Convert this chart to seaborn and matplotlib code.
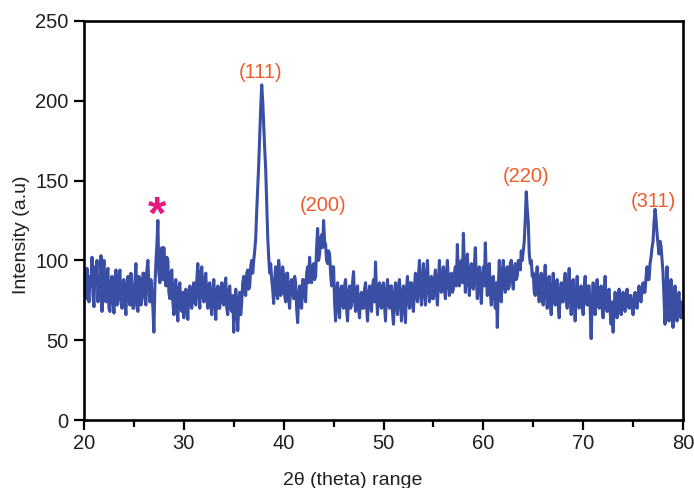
import numpy as np
import pandas as pd
import matplotlib
matplotlib.use("Agg")
import matplotlib.pyplot as plt
import seaborn as sns
from matplotlib.ticker import MultipleLocator

# 2-theta grid start/stop/step (degrees)
theta_start, theta_stop, theta_step = 20.0, 80.0, 0.1

# Intensity, one row per degree (10 samples / degree)
intensity = [
    80, 92, 76, 95, 82, 74, 90, 84, 102, 78,        # 20
    71, 96, 85, 100, 74, 90, 78, 103, 68, 88,       # 21
    100, 80, 74, 92, 95, 70, 68, 86, 90, 76,        # 22
    67, 88, 94, 72, 76, 90, 94, 74, 70, 86,         # 23
    88, 72, 66, 84, 90, 76, 72, 92, 84, 70,         # 24
    70, 86, 98, 74, 68, 90, 88, 72, 78, 92,         # 25
    92, 76, 72, 94, 100, 84, 74, 88, 80, 70,        # 26
    55, 84, 98, 110, 125, 92, 86, 104, 108, 88,     # 27
    108, 90, 84, 102, 100, 80, 76, 92, 94, 74,      # 28
    66, 84, 88, 70, 62, 82, 86, 70, 68, 80,         # 29
    64, 78, 82, 70, 63, 80, 84, 72, 70, 82,         # 30
    86, 74, 72, 88, 98, 80, 70, 92, 96, 78,         # 31
    74, 88, 92, 76, 70, 84, 86, 72, 66, 80,         # 32
    88, 76, 63, 80, 84, 70, 70, 82, 86, 74,         # 33
    72, 84, 89, 70, 66, 80, 84, 70, 68, 78,         # 34
    55, 70, 82, 74, 56, 72, 80, 66, 74, 86,         # 35
    90, 80, 78, 92, 94, 82, 84, 96, 100, 92,        # 36
    100, 106, 114, 131, 146, 160, 178, 196, 210, 200,  # 37
    185, 170, 157, 135, 115, 102, 92, 98, 88, 82,   # 38
    73, 88, 96, 80, 76, 100, 92, 78, 80, 96,        # 39
    90, 78, 74, 92, 92, 76, 70, 86, 88, 80,         # 40
    76, 90, 86, 70, 61, 78, 84, 72, 70, 88,         # 41
    88, 78, 74, 92, 96, 86, 102, 90, 86, 96,        # 42
    98, 88, 90, 108, 120, 100, 104, 114, 116, 108,  # 43
    125, 112, 110, 100, 98, 106, 104, 92, 84, 96,   # 44
    96, 74, 62, 80, 86, 70, 64, 82, 84, 72,         # 45
    70, 84, 88, 70, 62, 80, 84, 70, 72, 86,         # 46
    93, 76, 68, 82, 84, 70, 64, 78, 80, 70,         # 47
    70, 82, 86, 72, 62, 78, 84, 72, 68, 84,         # 48
    88, 74, 99, 80, 66, 82, 86, 72, 70, 84,         # 49
    86, 72, 62, 80, 88, 74, 70, 84, 84, 68,         # 50
    60, 78, 86, 72, 66, 84, 88, 74, 62, 80,         # 51
    84, 70, 61, 82, 90, 76, 70, 86, 86, 72,         # 52
    68, 84, 92, 78, 74, 90, 100, 80, 72, 88,        # 53
    98, 80, 72, 90, 100, 84, 74, 88, 90, 76,        # 54
    76, 88, 94, 80, 72, 86, 100, 84, 80, 92,        # 55
    96, 82, 76, 92, 100, 86, 78, 90, 92, 80,        # 56
    82, 92, 96, 84, 110, 90, 84, 98, 100, 86,       # 57
    117, 96, 80, 94, 104, 88, 78, 92, 98, 84,       # 58
    82, 96, 108, 88, 76, 90, 96, 82, 73, 90,        # 59
    96, 84, 111, 90, 78, 94, 98, 80, 72, 88,        # 60
    90, 78, 70, 86, 58, 84, 100, 82, 74, 92,        # 61
    100, 86, 80, 94, 96, 82, 84, 98, 100, 88,       # 62
    82, 94, 98, 88, 90, 100, 100, 94, 106, 100,     # 63
    106, 112, 126, 143, 132, 124, 104, 98, 100, 90, # 64
    92, 80, 78, 90, 96, 80, 74, 88, 92, 76,         # 65
    72, 88, 97, 80, 70, 84, 90, 74, 66, 82,         # 66
    92, 78, 72, 86, 88, 72, 64, 80, 86, 74,         # 67
    74, 86, 92, 76, 70, 84, 95, 78, 66, 80,         # 68
    88, 74, 62, 80, 90, 76, 70, 82, 84, 72,         # 69
    66, 82, 90, 76, 72, 84, 84, 70, 51, 74,         # 70
    86, 72, 66, 80, 88, 74, 70, 82, 84, 70,         # 71
    64, 80, 90, 74, 68, 80, 82, 68, 60, 74,         # 72
    55, 70, 80, 70, 64, 76, 82, 72, 66, 76,         # 73
    80, 72, 68, 78, 82, 72, 70, 78, 78, 70,         # 74
    66, 74, 80, 72, 70, 78, 84, 76, 74, 82,         # 75
    86, 80, 80, 90, 96, 88, 88, 98, 102, 108,       # 76
    112, 124, 132, 126, 117, 110, 104, 112, 109, 100,  # 77
    92, 76, 60, 82, 96, 80, 62, 78, 88, 72,         # 78
    58, 74, 84, 70, 62, 76, 80, 68, 64, 74,         # 79
    70,                                             # 80
]

# Peak labels
peak_labels = ["(111)", "(200)", "(220)", "(311)"]
peak_label_x = [37.7, 43.9, 64.25, 77.0]
peak_label_y = [218, 134.7, 152.5, 136.8]
star_x, star_y = 27.3, 127.5

two_theta = np.round(np.linspace(theta_start, theta_stop, len(intensity)), 2)
df = pd.DataFrame({"two_theta": two_theta, "intensity": intensity})

sns.set_theme(style="ticks")
plt.rcParams["font.family"] = ["Liberation Sans", "DejaVu Sans"]

ink = "#231f20"
fig = plt.figure(figsize=(6.94, 4.88), dpi=100)
ax = fig.add_axes([84 / 694, 1 - 420 / 488, (683 - 84) / 694, (420 - 21) / 488])

sns.lineplot(data=df, x="two_theta", y="intensity", ax=ax, color="#3a4ea3",
             linewidth=2.2, estimator=None, sort=False)

ax.set_xlim(20, 80)
ax.set_ylim(0, 250)
ax.xaxis.set_major_locator(MultipleLocator(10))
ax.xaxis.set_minor_locator(MultipleLocator(5))
ax.yaxis.set_major_locator(MultipleLocator(50))

for s in ax.spines.values():
    s.set_linewidth(1.9)
    s.set_color("black")
    s.set_visible(True)

ax.tick_params(axis="both", which="major", direction="out", length=7, width=1.6,
               labelsize=14.5, colors="black", labelcolor=ink, pad=3)
ax.tick_params(axis="x", which="minor", direction="out", length=5, width=1.6, colors="black")
ax.tick_params(axis="y", pad=4)
ax.tick_params(top=False, right=False)

ax.set_xlabel("2θ (theta) range", fontsize=14, color=ink)
ax.set_ylabel("Intensity (a.u)", fontsize=14, color=ink)
ax.xaxis.set_label_coords(0.449, -0.13)
ax.yaxis.set_label_coords(-0.09, 0.464)

for lab, lx, ly in zip(peak_labels, peak_label_x, peak_label_y):
    ax.text(lx, ly, lab, ha="center", va="center", fontsize=14.5, color="#f15a2b")

ax.text(star_x, star_y, "*", ha="center", va="center", fontsize=34,
        fontweight="bold", color="#e8197e")

fig.savefig("out.png", dpi=100)
